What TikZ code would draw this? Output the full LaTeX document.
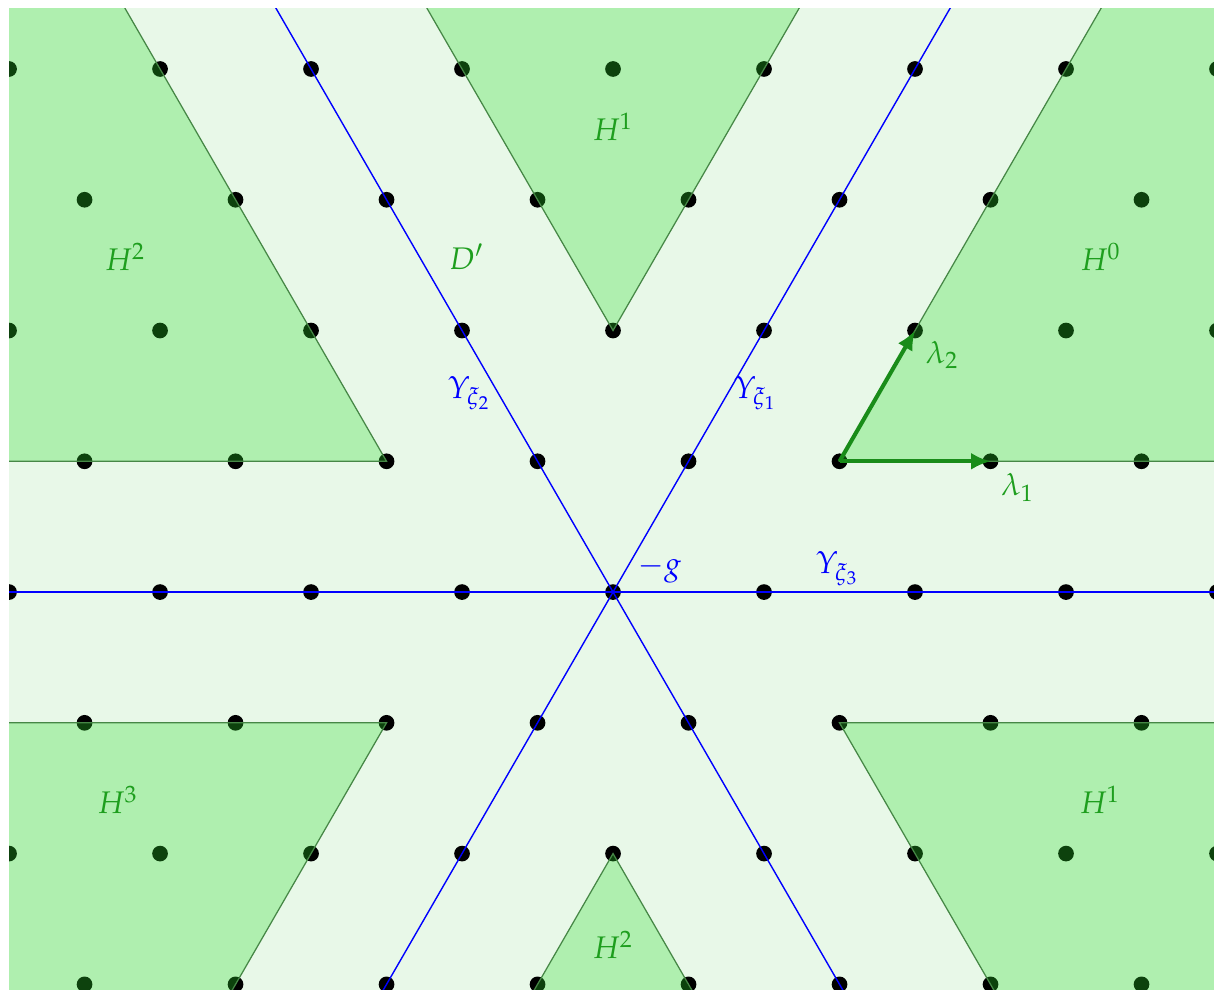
\documentclass[tikz,border=0pt]{standalone}
\usepackage{amsmath}
\usepackage[slantedGreek]{mathpazo}
\usepackage{xcolor}
\usetikzlibrary{arrows.meta, calc}

\definecolor{planebg}{RGB}{232,248,232}
\definecolor{hfill}{RGB}{45,220,45}
\definecolor{hedge}{RGB}{70,135,70}
\definecolor{hlabel}{RGB}{30,158,30}
\definecolor{wgtarrow}{RGB}{25,140,25}

\begin{document}
\begin{tikzpicture}[x=1.7cm, y=1.7cm, >={Latex[length=6.2pt,width=5.4pt]},
  every node/.style={font=\normalsize},
  lattice/.style={fill=black},
  chamber/.style={fill=hfill, fill opacity=0.3, draw=hedge, line width=0.4pt},
  wall/.style={blue, line width=0.45pt},
  weight/.style={->, wgtarrow, line width=1.3pt},
  hlab/.style={text=hlabel},
  ylab/.style={text=blue}]
  \useasboundingbox (-4.060,-2.629) rectangle (3.980,3.921);
  \clip (-4,-2.7) rectangle (4,3.868);
  \fill[planebg] (-4,-2.7) rectangle (4,3.868);
  % lattice points
  \foreach \j in {-2,0,2,4} \foreach \i in {-4,...,4}
    \fill[lattice] (\i,{\j*sqrt(3)/2}) circle (0.052);
  \foreach \j in {-3,-1,1,3} \foreach \i in {-3.5,-2.5,...,3.5}
    \fill[lattice] (\i,{\j*sqrt(3)/2}) circle (0.052);
  % translated chambers H^k
  \foreach \a in {0,60,...,300}
    \filldraw[chamber] (\a+30:{sqrt(3)}) -- ++(\a:10) -- ++(\a+120:10) -- cycle;
  % walls through -g
  \coordinate (g) at (0,0);
  \foreach \a in {0,60,120}
    \draw[wall] ($(g)+(\a:-8)$) -- ($(g)+(\a:8)$);
  % fundamental weights
  \coordinate (base) at (1.5,{sqrt(3)/2});
  \coordinate (w1) at (2.5,{sqrt(3)/2});
  \coordinate (w2) at (2,{sqrt(3)});
  \draw[weight] (base) -- (w1);
  \draw[weight] (base) -- (w2);
  \node[hlab] (lam1) at (2.68,0.695) {$\lambda_1$};
  \node[hlab] (lam2) at (2.18,1.57) {$\lambda_2$};
  % labels
  \node[hlab] (h1top) at (0,3.08) {$H^1$};
  \node[hlab] (h2top) at (-3.23,2.22) {$H^2$};
  \node[hlab] (h0) at (3.23,2.22) {$H^0$};
  \node[hlab] (dprime) at (-0.97,2.22) {$D'$};
  \node[hlab] (h3) at (-3.28,-1.377) {$H^3$};
  \node[hlab] (h1bot) at (3.225,-1.377) {$H^1$};
  \node[hlab] (h2bot) at (0,-2.338) {$H^2$};
  \node[ylab] (ups2) at (-0.947,1.318) {$\Upsilon_{\xi_2}$};
  \node[ylab] (ups1) at (0.947,1.318) {$\Upsilon_{\xi_1}$};
  \node[ylab] (ups3) at (1.49,0.155) {$\Upsilon_{\xi_3}$};
  \node[ylab] (mg) at (0.31,0.152) {$-g$};
\end{tikzpicture}
\end{document}
